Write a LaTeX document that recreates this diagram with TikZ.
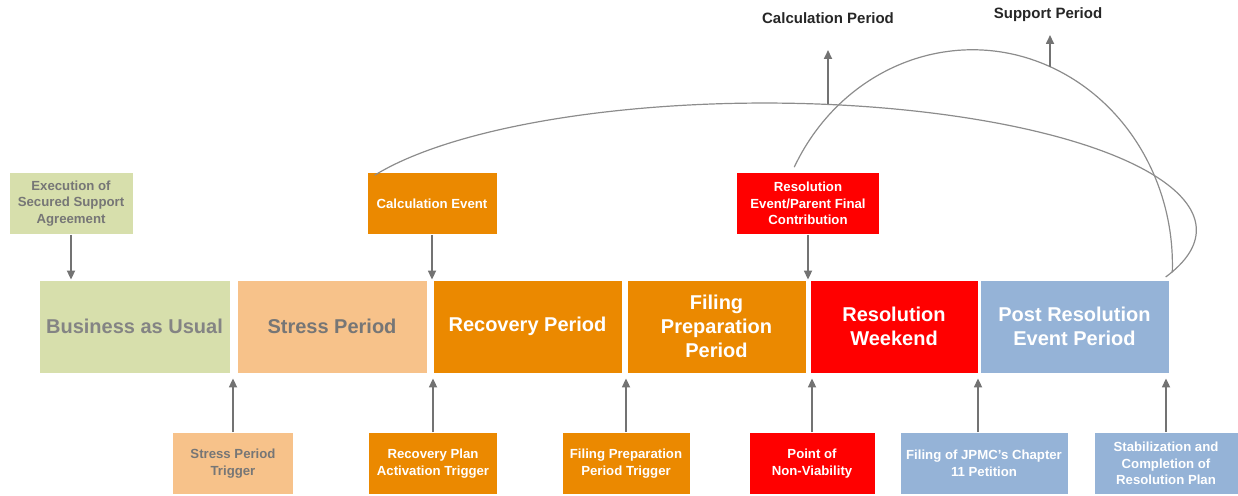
\documentclass[tikz,border=0pt]{standalone}
\usepackage{fontspec}
\setmainfont{Liberation Sans}
\usepackage{xcolor}
\usetikzlibrary{calc,arrows.meta}
\definecolor{bauGreen}{HTML}{D7DFAC}
\definecolor{stressTan}{HTML}{F7C28A}
\definecolor{recOrange}{HTML}{EB8900}
\definecolor{resRed}{HTML}{FF0000}
\definecolor{postBlue}{HTML}{95B3D7}
\definecolor{txtGray}{HTML}{767676}
\definecolor{lnGray}{HTML}{737373}
\definecolor{arcGray}{HTML}{8C8C8C}

\begin{document}
\begin{tikzpicture}[x=1pt,y=1pt,
  period/.style={draw=white,line width=0.8pt,minimum height=93pt,inner sep=0pt,align=center,text=white,
    font=\fontsize{20}{23.7}\selectfont\bfseries},
  event/.style={draw=white,line width=0.6pt,minimum height=62pt,inner sep=1pt,align=center,text=white,
    font=\fontsize{13.2}{16.5}\selectfont\bfseries},
  toplabel/.style={inner sep=0pt,text=black!85,font=\fontsize{15}{18}\selectfont\bfseries},
  arr/.style={draw=lnGray,line width=1.7pt,-{Triangle[length=9pt,width=8pt]}},
  spanline/.style={draw=arcGray,line width=1.2pt}]
\useasboundingbox (0,0) rectangle (1238,495);

\node[period,fill=bauGreen,text=txtGray!90,minimum width=191pt] (bau) at (134.5,168.5) {Business as Usual};
\node[period,fill=stressTan,text=txtGray,minimum width=190pt] (stress) at (332,168.5) {Stress Period};
\node[period,fill=recOrange,minimum width=189pt] (recovery) at (527.5,168.5) {Recovery Period};
\node[period,fill=recOrange,minimum width=179pt] (filing) at (716.5,168.5) {Filing\\Preparation\\Period};
\node[period,fill=resRed,minimum width=168pt] (weekend) at (894,168.5) {Resolution\\Weekend};
\node[period,fill=postBlue,minimum width=189pt] (post) at (1074.5,168.5) {Post Resolution\\Event Period};

\node[event,fill=bauGreen,text=txtGray,minimum width=124pt] (exec) at (71,291.5) {Execution of\\Secured Support\\Agreement};
\node[event,fill=recOrange,minimum width=130pt] (calcev) at (432,291.5) {Calculation Event};
\node[event,fill=resRed,minimum width=143pt] (resev) at (808,291.5) {Resolution\\Event/Parent Final\\Contribution};

\node[event,fill=stressTan,text=txtGray,minimum width=121pt] (strig) at (233,31.5) {Stress Period\\Trigger};
\node[event,fill=recOrange,minimum width=129pt] (rtrig) at (433,31.5) {Recovery Plan\\Activation Trigger};
\node[event,fill=recOrange,minimum width=128pt] (ftrig) at (626,31.5) {Filing Preparation\\Period Trigger};
\node[event,fill=resRed,minimum width=126pt] (pnv) at (812,31.5) {Point of\\Non-Viability};
\node[event,fill=postBlue,minimum width=168pt] (jpmc) at (984,31.5) {Filing of JPMC’s Chapter\\11 Petition};
\node[event,fill=postBlue,minimum width=144pt] (stab) at (1166,31.5) {Stabilization and\\Completion of\\Resolution Plan};

\foreach \ev in {exec,calcev,resev}{
\draw[arr] (\ev.south) -- (\ev.south |- bau.north);
}
\foreach \trig/\dx in {strig/0,rtrig/0,ftrig/0,pnv/0,jpmc/-6,stab/0}{
\draw[arr] ($(\trig.north)+(\dx,0)$) -- ($(\trig.north |- bau.south)+(\dx,-5)$);
}

\draw[spanline] ($(calcev.north west)+(8,-3)$) arc[start angle=154.4,end angle=-21.7,x radius=432pt,y radius=127pt];
\draw[spanline] ($(resev.north west)+(58,5)$) arc[start angle=153,end angle=-2,x radius=200pt,y radius=215pt];

\node[toplabel] (calcper) at (828,477) {Calculation Period};
\node[toplabel] (suppper) at (1048,480) {Support Period};
\coordinate (calcbase) at (828,391);
\coordinate (calctip) at (828,445);
\coordinate (suppbase) at (1050,428);
\coordinate (supptip) at (1050,460);
\draw[arr] (calcbase) -- (calctip);
\draw[arr] (suppbase) -- (supptip);

\end{tikzpicture}
\end{document}
